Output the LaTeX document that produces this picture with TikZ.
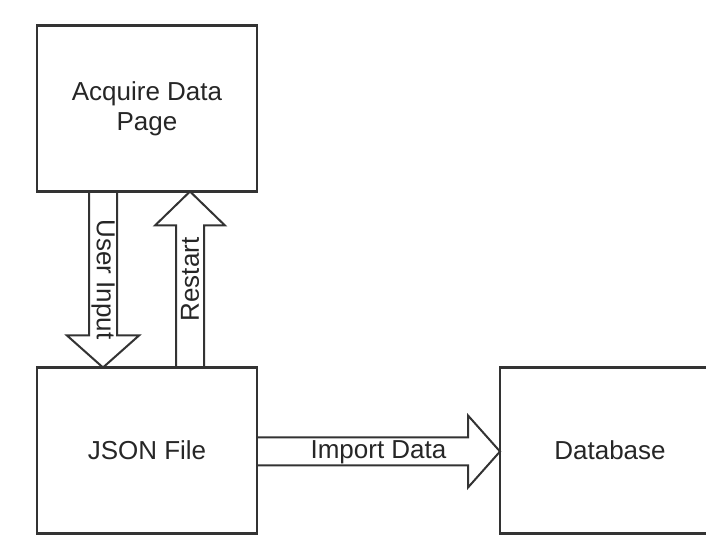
\documentclass[tikz,border=0pt]{standalone}
\usepackage{fontspec}
\setmainfont{Liberation Sans}
\usetikzlibrary{positioning,calc}
\tikzset{
  block/.style={draw=black!80, line width=2.6pt, minimum width=220pt, minimum height=166pt,
    outer sep=0pt, align=center, text=black!85, font=\fontsize{26}{30}\selectfont},
  blockarrow/.style={draw=black!80, line width=2pt, line join=miter},
  arrowlabel/.style={text=black!85, font=\fontsize{26}{30}\selectfont, inner sep=0pt},
}
\begin{document}
\begin{tikzpicture}[x=1pt,y=1pt]
    \useasboundingbox (0,0) rectangle (706,535);
    \clip (0,0) rectangle (706,535);
    % boxes
    \node[block] (acq) at (147,426.5) {Acquire Data\\Page};
    \node[block] (json) at (147,84.5) {JSON File};
    \node[block, right=243pt of json] (db) {Database};
    % user input (down)
    \draw[blockarrow] ($(acq.south)+(-58,0)$) -- ($(json.north)+(-58,32)$) -- ++(-22,0)
        -- ($(json.north)+(-44,0)$) -- ++(36,32) -- ++(-22,0) -- ($(acq.south)+(-30,0)$);
    % restart (up)
    \draw[blockarrow] ($(json.north)+(29,0)$) -- ($(acq.south)+(29,-34)$) -- ++(-21,0)
        -- ($(acq.south)+(43,0)$) -- ++(35,-34) -- ++(-21,0) -- ($(json.north)+(57,0)$);
    % import data (right)
    \draw[blockarrow] ($(json.east)+(0,13)$) -- ($(db.west)+(-32,13)$) -- ++(0,22)
        -- ($(db.west)+(0,-1)$) -- ++(-32,-36) -- ++(0,22) -- ($(json.east)+(0,-15)$);
    % labels
    \node[arrowlabel, rotate=-90] (userlbl) at ($(acq.south)!0.5!(json.north)+(-44,0)$) {User Input};
    \node[arrowlabel, rotate=90] (restartlbl) at ($(acq.south)!0.5!(json.north)+(43,0)$) {Restart};
    \node[arrowlabel] (importlbl) at ($(json.east)!0.5!(db.west)+(0,-2)$) {Import Data};
\end{tikzpicture}
\end{document}
